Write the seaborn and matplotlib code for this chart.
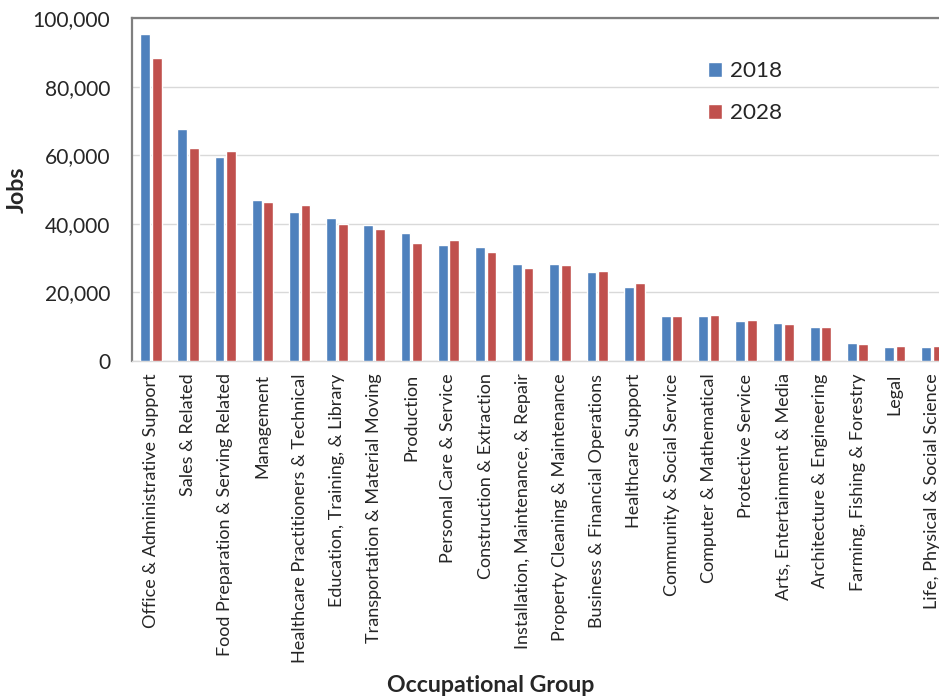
import matplotlib
matplotlib.use("Agg")
import matplotlib.pyplot as plt
import seaborn as sns
import pandas as pd
from matplotlib.ticker import FuncFormatter, MultipleLocator

groups = [
    "Office & Administrative Support",
    "Sales & Related",
    "Food Preparation & Serving Related",
    "Management",
    "Healthcare Practitioners & Technical",
    "Education, Training, & Library",
    "Transportation & Material Moving",
    "Production",
    "Personal Care & Service",
    "Construction & Extraction",
    "Installation, Maintenance, & Repair",
    "Property Cleaning & Maintenance",
    "Business & Financial Operations",
    "Healthcare Support",
    "Community & Social Service",
    "Computer & Mathematical",
    "Protective Service",
    "Arts, Entertainment & Media",
    "Architecture & Engineering",
    "Farming, Fishing & Forestry",
    "Legal",
    "Life, Physical & Social Science",
]

jobs_2018 = [95300, 67500, 59500, 46800, 43400, 41800, 39700, 37300, 33900,
             33100, 28400, 28200, 26000, 21700, 13200, 13000, 11800, 11200,
             10000, 5300, 4200, 4200]
jobs_2028 = [88200, 62000, 61300, 46400, 45600, 40000, 38400, 34300, 35400,
             31800, 27000, 28000, 26200, 22800, 13200, 13400, 12000, 10700,
             9800, 5000, 4300, 4300]

years = ["2018", "2028"]
colors = ["#4F81BD", "#C0504D"]

df = pd.DataFrame({
    "Occupational Group": groups * 2,
    "Jobs": jobs_2018 + jobs_2028,
    "Year": [years[0]] * len(groups) + [years[1]] * len(groups),
})

sns.set_style("white")
plt.rcParams["font.family"] = ["Lato", "DejaVu Sans"]

fig = plt.figure(figsize=(9.39, 6.98), dpi=100)
ax = fig.add_axes([0.1409, 1 - 361 / 698, 0.8714, (361 - 18) / 698])

sns.barplot(data=df, x="Occupational Group", y="Jobs", hue="Year",
            palette=colors, width=0.62, gap=0.15, saturation=1,
            ax=ax, zorder=3)

ax.set_xlim(-0.5, len(groups) - 0.5)
ax.set_ylim(0, 100000)
ax.yaxis.set_major_locator(MultipleLocator(20000))
ax.yaxis.set_major_formatter(FuncFormatter(lambda v, p: f"{int(v):,}"))
ax.grid(axis="y", color="#D9D9D9", linewidth=1, zorder=0)
ax.set_axisbelow(True)

for side in ["top", "left", "right"]:
    ax.spines[side].set_color("#7F7F7F")
    ax.spines[side].set_linewidth(1.6)
ax.spines["bottom"].set_color("#D9D9D9")
ax.spines["bottom"].set_linewidth(1)

ax.tick_params(axis="y", length=0, pad=16, labelsize=15.1, labelcolor="#262626")
ax.tick_params(axis="x", length=0, pad=9, labelsize=13, labelcolor="#262626")
plt.setp(ax.get_xticklabels(), rotation=90, ha="center", va="top")

ax.set_ylabel("Jobs", fontsize=16.7, fontweight="bold")
ax.yaxis.set_label_coords((27 - 132) / 818, 0.5)
ax.set_xlabel("Occupational Group", fontsize=16.7, fontweight="bold")
ax.xaxis.set_label_coords((490 - 132) / 818, -314 / 343)

ax.legend(loc="upper left", bbox_to_anchor=(688 / 939, 1 - 41 / 698),
          bbox_transform=fig.transFigure, frameon=False, fontsize=16.2,
          handlelength=0.63, handleheight=0.7, handletextpad=0.35,
          labelspacing=0.98, title=None)

fig.savefig("out.png", dpi=100)
